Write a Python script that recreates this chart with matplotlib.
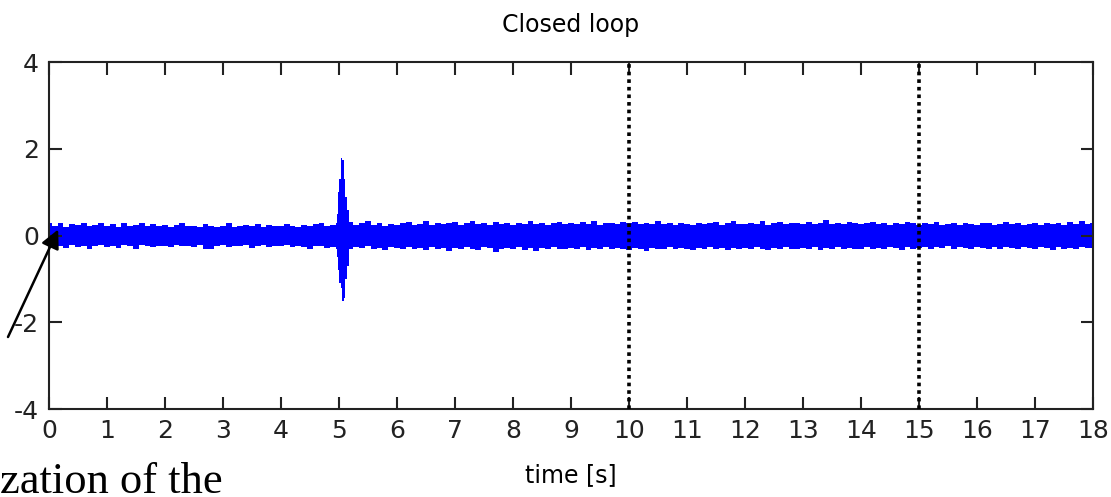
import numpy as np
import matplotlib.pyplot as plt

plt.rcParams["axes.unicode_minus"] = False

time_step = 0.1
upper = [
    0.28, 0.22, 0.30, 0.20, 0.27, 0.24, 0.30, 0.21, 0.25, 0.29,
    0.22, 0.26, 0.20, 0.28, 0.23, 0.24, 0.30, 0.22, 0.27, 0.21,
    0.25, 0.20, 0.24, 0.29, 0.21, 0.23, 0.19, 0.26, 0.22, 0.20,
    0.23, 0.28, 0.20, 0.22, 0.25, 0.21, 0.27, 0.20, 0.24, 0.22,
    0.21, 0.26, 0.22, 0.20, 0.24, 0.22, 0.27, 0.29, 0.23, 0.25,
    0.30, 0.26, 0.31, 0.24, 0.28, 0.33, 0.25, 0.29, 0.23, 0.27,
    0.24, 0.28, 0.31, 0.25, 0.27, 0.33, 0.24, 0.30, 0.26, 0.28,
    0.31, 0.25, 0.29, 0.34, 0.26, 0.28, 0.24, 0.32, 0.27, 0.30,
    0.25, 0.29, 0.27, 0.33, 0.26, 0.30, 0.25, 0.28, 0.32, 0.26,
    0.29, 0.26, 0.31, 0.27, 0.33, 0.25, 0.29, 0.28, 0.26, 0.32,
    0.28, 0.31, 0.26, 0.30, 0.27, 0.33, 0.26, 0.29, 0.25, 0.28,
    0.27, 0.25, 0.30, 0.26, 0.29, 0.31, 0.25, 0.28, 0.33, 0.27,
    0.26, 0.30, 0.27, 0.34, 0.25, 0.29, 0.31, 0.26, 0.28, 0.30,
    0.27, 0.32, 0.26, 0.29, 0.35, 0.27, 0.30, 0.26, 0.31, 0.28,
    0.26, 0.29, 0.31, 0.27, 0.28, 0.25, 0.30, 0.27, 0.32, 0.29,
    0.25, 0.28, 0.26, 0.31, 0.24, 0.27, 0.30, 0.25, 0.29, 0.26,
    0.24, 0.28, 0.30, 0.25, 0.27, 0.31, 0.26, 0.29, 0.24, 0.27,
    0.28, 0.25, 0.30, 0.26, 0.29, 0.24, 0.31, 0.27, 0.33, 0.26,
    0.30,
]
lower = [
    -0.27, -0.21, -0.25, -0.29, -0.22, -0.26, -0.23, -0.30, -0.24, -0.21,
    -0.26, -0.23, -0.28, -0.22, -0.25, -0.31, -0.22, -0.24, -0.27, -0.23,
    -0.24, -0.26, -0.21, -0.25, -0.23, -0.27, -0.22, -0.30, -0.31, -0.24,
    -0.22, -0.26, -0.23, -0.25, -0.21, -0.28, -0.24, -0.22, -0.26, -0.23,
    -0.25, -0.22, -0.27, -0.24, -0.26, -0.30, -0.23, -0.25, -0.28, -0.26,
    -0.30, -0.27, -0.32, -0.26, -0.29, -0.25, -0.31, -0.28, -0.34, -0.27,
    -0.29, -0.32, -0.26, -0.30, -0.28, -0.33, -0.27, -0.31, -0.29, -0.35,
    -0.28, -0.31, -0.26, -0.30, -0.33, -0.27, -0.29, -0.38, -0.30, -0.28,
    -0.31, -0.27, -0.33, -0.29, -0.36, -0.28, -0.31, -0.26, -0.30, -0.32,
    -0.28, -0.31, -0.27, -0.33, -0.29, -0.30, -0.26, -0.32, -0.28, -0.31,
    -0.33, -0.29, -0.31, -0.35, -0.28, -0.30, -0.32, -0.27, -0.31, -0.29,
    -0.30, -0.33, -0.28, -0.31, -0.27, -0.32, -0.29, -0.34, -0.28, -0.30,
    -0.29, -0.32, -0.27, -0.30, -0.33, -0.28, -0.31, -0.26, -0.30, -0.32,
    -0.28, -0.31, -0.27, -0.33, -0.29, -0.30, -0.26, -0.32, -0.28, -0.31,
    -0.30, -0.27, -0.32, -0.28, -0.31, -0.26, -0.29, -0.33, -0.27, -0.30,
    -0.28, -0.26, -0.30, -0.27, -0.29, -0.25, -0.31, -0.27, -0.28, -0.30,
    -0.26, -0.29, -0.32, -0.27, -0.30, -0.26, -0.28, -0.31, -0.27, -0.29,
    -0.30, -0.27, -0.29, -0.33, -0.26, -0.30, -0.28, -0.31, -0.27, -0.29,
    -0.28,
]

# the disturbance burst near 5 s
spike_t = [4.96, 4.99, 5.02, 5.05, 5.07, 5.09, 5.12, 5.15, 5.18]
spike_hi = [0.5, 1.0, 1.3, 1.8, 1.75, 1.3, 0.9, 0.6, 0.35]
spike_lo = [-0.5, -0.8, -1.1, -1.2, -1.5, -1.45, -1.0, -0.7, -0.4]

markers = [10, 15]
xticks = list(range(0, 19))
yticks = [-4, -2, 0, 2, 4]

t = np.arange(len(upper)) * time_step

fig = plt.figure(figsize=(11.11, 4.97), dpi=100)
ax = fig.add_axes([0.044, 0.177, 0.940, 0.698])

blue = (0, 0, 1)
ax.fill_between(t, lower, upper, step="mid", color=blue, lw=0)
ax.fill_between(spike_t, spike_lo, spike_hi, step="mid", color=blue, lw=0)

for m in markers:
    ax.plot([m, m], [-4, 4], color="black", lw=2.6, linestyle=(0, (1, 1.1)), zorder=5)

ax.set_xlim(0, 18)
ax.set_ylim(-4, 4)
ax.set_xticks(xticks)
ax.set_yticks(yticks)
ax.tick_params(direction="in", length=9, width=1.5, top=True, right=True,
               labelsize=18, pad=7, colors="#222222")
for s in ax.spines.values():
    s.set_linewidth(1.5)
    s.set_color("#222222")

ax.set_title("Closed loop", fontsize=17, pad=22)
ax.set_xlabel("time [s]", fontsize=17, labelpad=15)

# arrow coming in from the surrounding text
ax.annotate("", xy=(0.16, 0.14), xycoords="data",
            xytext=(8, 160), textcoords="figure pixels",
            arrowprops=dict(arrowstyle="-|>", color="black", lw=1.8,
                            mutation_scale=28, shrinkA=0, shrinkB=0),
            annotation_clip=False)
fig.text(0.0, 0.008, "zation of the", family="Liberation Serif",
         fontsize=32, va="baseline", ha="left")

fig.savefig("out.png", dpi=100)
